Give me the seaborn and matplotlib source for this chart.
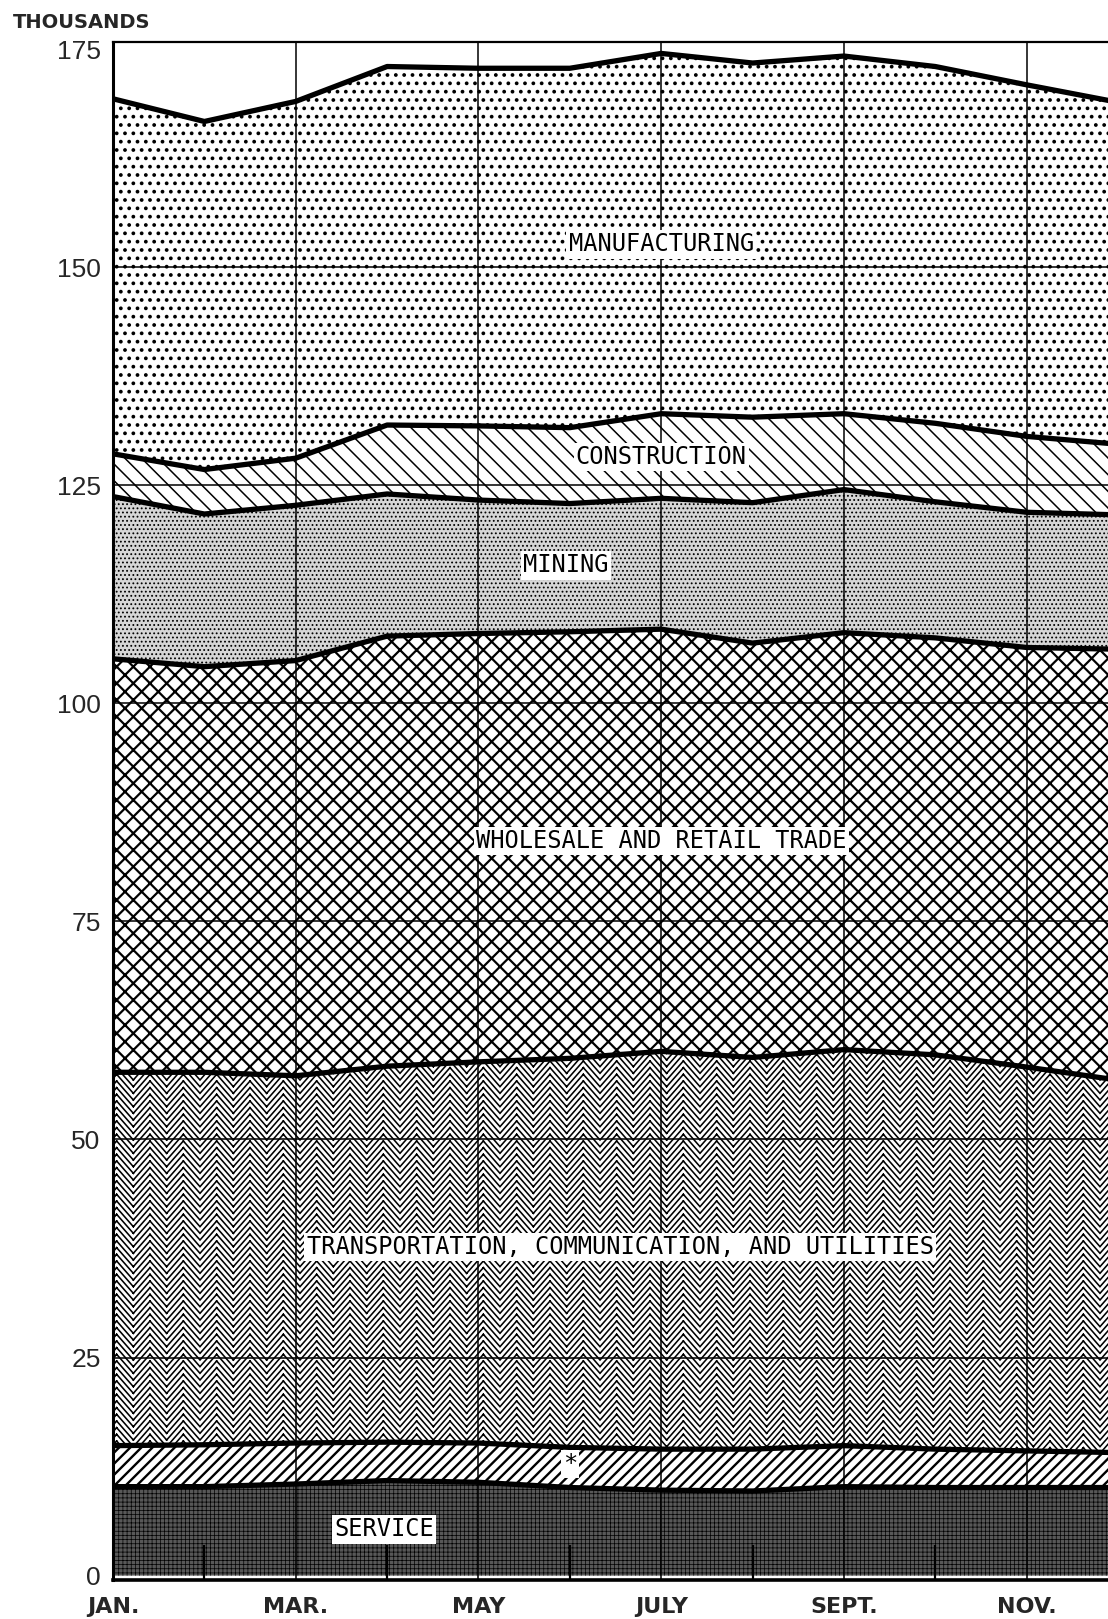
import numpy as np
import pandas as pd
import matplotlib
matplotlib.use("Agg")
import matplotlib.pyplot as plt
from matplotlib import hatch as mhatch
from matplotlib.path import Path
import seaborn as sns

# DATA - thousands of employees, by month
months=list(range(12))
tick_pos=[0,2,4,6,8,10]
tick_labels=["JAN.","MAR.","MAY","JULY","SEPT.","NOV."]
y_ticks=[0,25,50,75,100,125,150,175]

service=[10.2,10.2,10.5,10.9,10.7,10.1,9.8,9.7,10.2,10.1,10.1,10.1]
other=[4.7,4.8,4.7,4.4,4.5,4.6,4.7,4.8,4.7,4.4,4.2,4.0]
transport=[42.8,42.7,42.1,43.1,43.7,44.6,45.6,44.9,45.4,45.2,44.0,42.7]
trade=[47.4,46.5,47.6,49.3,49.1,48.9,48.4,47.5,47.8,47.8,48.1,49.4]
mining=[18.6,17.5,17.8,16.3,15.3,14.7,15.0,16.1,16.4,15.6,15.5,15.4]
construction=[4.9,5.1,5.4,7.9,8.5,8.7,9.7,9.8,8.7,9.0,8.7,8.1]
manufacturing=[40.7,39.9,40.9,41.1,41.0,41.2,41.3,40.6,41.0,40.9,40.3,39.2]

layers=["SERVICE","*","TRANSPORTATION, COMMUNICATION, AND UTILITIES",
        "WHOLESALE AND RETAIL TRADE","MINING","CONSTRUCTION","MANUFACTURING"]
df=pd.DataFrame({"month":months,layers[0]:service,layers[1]:other,layers[2]:transport,
                 layers[3]:trade,layers[4]:mining,layers[5]:construction,layers[6]:manufacturing})
cum=df[layers].cumsum(axis=1)
cum["month"]=df["month"]
long=cum.melt(id_vars="month",var_name="layer",value_name="value")

# zigzag hatch, used in place of the '*' star hatch
# (drawn as separate segments, agg fills hatch paths)
class Chevron(mhatch.HatchPatternBase):
    def __init__(self,hatch,density):
        self.num_rows=hatch.count("*")*15
        self.peaks=3
        self.amp=0.19
        self.rows=list(range(-4,self.num_rows+1)) if self.num_rows else []
        self.num_vertices=len(self.rows)*self.peaks*4
    def set_vertices_and_codes(self,vertices,codes):
        n=2*self.peaks+1
        xs=np.linspace(0,1,n)
        ys=np.where(np.arange(n)%2==1,self.amp,0.0)
        k=0
        for r in self.rows:
            base=r/self.num_rows
            for j in range(n-1):
                vertices[k]=(xs[j],base+ys[j])
                vertices[k+1]=(xs[j+1],base+ys[j+1])
                codes[k]=Path.MOVETO
                codes[k+1]=Path.LINETO
                k+=2

mhatch._hatch_types=[h for h in mhatch._hatch_types if h is not mhatch.Stars]+[Chevron]

sns.set_theme(style="white")
plt.rcParams["font.family"]=["DejaVu Sans"]

# hatch, facecolor, hatch linewidth for each layer (bottom to top)
styles=[("++++","#585858",0.5),
        ("///","white",1.7),
        ("*","white",1.15),
        ("xx","white",1.6),
        ("....","#d6d6d6",0.8),
        ("\\\\","white",1.1),
        ("..","white",1.5)]

fig=plt.figure(figsize=(11.08,16.19),dpi=100)
ax=fig.add_axes([0.102,0.0241,0.898,0.9499])

bottom=np.zeros(len(months))
for col,(h,fc,hlw) in zip(layers,styles):
    top=bottom+df[col].values
    with plt.rc_context({"hatch.linewidth":hlw}):
        ax.fill_between(df["month"],bottom,top,facecolor=fc,edgecolor="black",hatch=h,linewidth=0,zorder=1)
    bottom=top

sns.lineplot(data=long,x="month",y="value",units="layer",estimator=None,color="black",
             linewidth=3.8,legend=False,ax=ax,zorder=4)

ax.set_xlim(0,10.89)
ax.set_ylim(-0.5,175.8)
ax.set_xticks(tick_pos)
ax.set_xticklabels(tick_labels)
ax.set_xticks([1,3,5,7,9],minor=True)
ax.set_yticks(y_ticks)
ax.set_xlabel("")
ax.set_ylabel("")
ax.grid(True,which="major",color="black",linewidth=1.1)
ax.set_axisbelow(False)
for g in ax.yaxis.get_gridlines()[:1]+ax.yaxis.get_gridlines()[-1:]:
    g.set_visible(False)
ax.xaxis.get_gridlines()[0].set_visible(False)

ax.tick_params(axis="x",which="major",length=0,pad=12,labelsize=16)
ax.tick_params(axis="x",which="minor",direction="in",length=25,width=1.6,color="black",bottom=True)
ax.tick_params(axis="y",length=0,pad=9,labelsize=19)
for t in ax.get_xticklabels():
    t.set_fontweight("bold")
for t in ax.get_yticklabels():
    t.set_fontfamily("Liberation Sans")

ax.spines["right"].set_visible(False)
ax.spines["left"].set_linewidth(2.2)
ax.spines["bottom"].set_linewidth(2.6)
ax.spines["top"].set_linewidth(1.6)
for s in ["left","bottom","top"]:
    ax.spines[s].set_color("black")
    ax.spines[s].set_zorder(5)

box=dict(facecolor="white",edgecolor="none",pad=1.5)
labels_pos=[("MANUFACTURING",6.0,152.6),("CONSTRUCTION",6.0,128.2),("MINING",4.96,115.8),
            ("WHOLESALE AND RETAIL TRADE",6.0,84.2),
            ("TRANSPORTATION, COMMUNICATION, AND UTILITIES",5.55,37.7),
            ("*",5.0,12.8),("SERVICE",2.97,5.3)]
for txt,x,y in labels_pos:
    ax.text(x,y,txt,ha="center",va="center",fontsize=17,family="DejaVu Sans Mono",
            color="black",bbox=box,zorder=6)

fig.text(13/1108,1-22/1619,"THOUSANDS",ha="left",va="center",fontsize=14,fontweight="bold")

fig.savefig("out.png",dpi=100)
